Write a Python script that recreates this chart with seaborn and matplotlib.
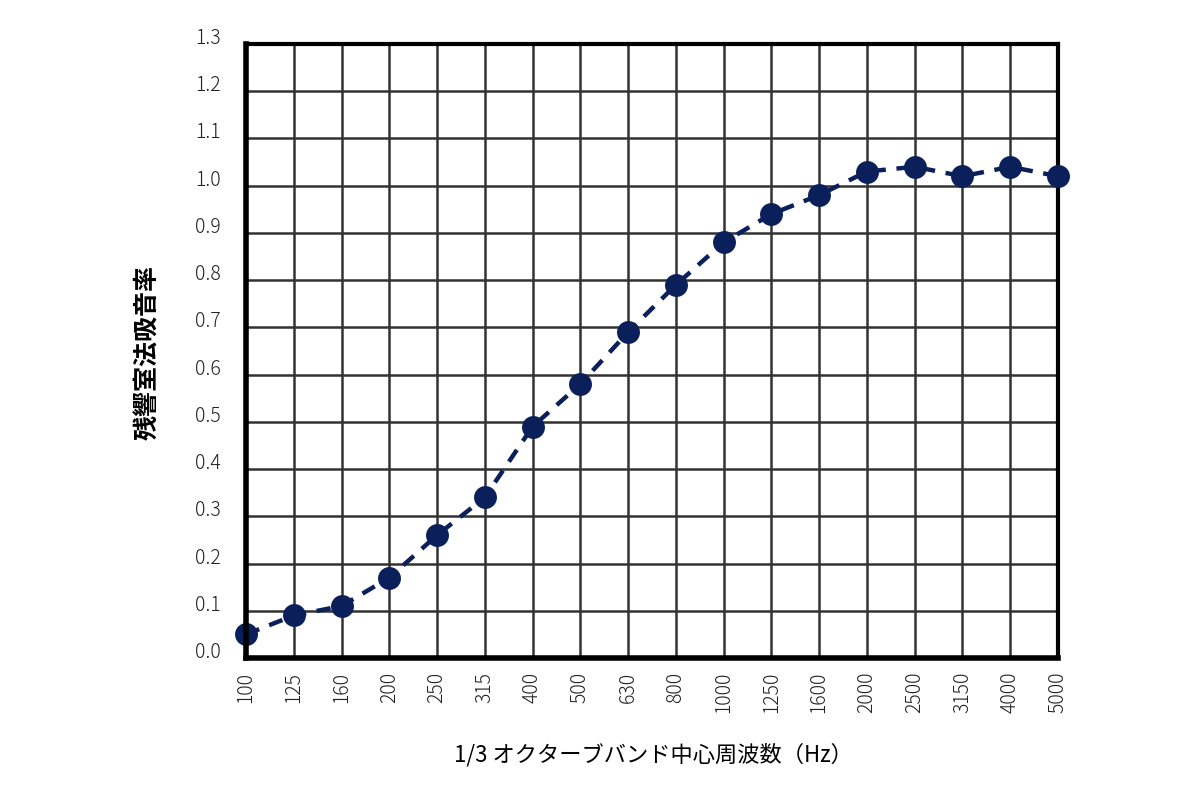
import matplotlib
matplotlib.use("Agg")
import matplotlib.pyplot as plt
import seaborn as sns
import numpy as np

freqs = ["100", "125", "160", "200", "250", "315", "400", "500", "630", "800",
         "1000", "1250", "1600", "2000", "2500", "3150", "4000", "5000"]
absorption = [0.05, 0.09, 0.11, 0.17, 0.26, 0.34, 0.49, 0.58, 0.69, 0.79,
              0.88, 0.94, 0.98, 1.03, 1.04, 1.02, 1.04, 1.02]
yticks = [0.0, 0.1, 0.2, 0.3, 0.4, 0.5, 0.6, 0.7, 0.8, 0.9, 1.0, 1.1, 1.2, 1.3]

sns.set_theme(style="white")
plt.rcParams['font.family'] = ['Noto Sans CJK JP', 'DejaVu Sans']

fig = plt.figure(figsize=(12, 8), dpi=100)
ax = fig.add_axes([246/1200, 1-658/800, (1058-246)/1200, (658-44)/800])

color = "#0b1f5b"
idx = np.arange(len(freqs))
sns.lineplot(x=idx, y=absorption, ax=ax, color=color, linewidth=3.2,
             linestyle=(0, (3.2, 2.4)), marker='o', markersize=16.5,
             markeredgewidth=0, markerfacecolor=color, zorder=5, clip_on=False)

ax.set_xlim(0, len(freqs) - 1)
ax.set_ylim(0, 1.3)
ax.set_xticks(idx)
ax.set_xticklabels(freqs, rotation=90, fontsize=14, fontweight='light', color='#222222')
ax.set_yticks(yticks)
ax.set_yticklabels([f"{v:.1f}" for v in yticks], fontsize=14, fontweight='light', color='#222222')
ax.tick_params(axis='x', length=0, pad=10)
ax.tick_params(axis='y', length=0, pad=18)
for lab in ax.get_yticklabels():
    lab.set_verticalalignment('baseline')

ax.grid(True, color='#333333', linewidth=1.8)
ax.set_axisbelow(True)
for side in ['top', 'right']:
    ax.spines[side].set_linewidth(3)
    ax.spines[side].set_color('black')
for side in ['left', 'bottom']:
    ax.spines[side].set_linewidth(4)
    ax.spines[side].set_color('black')
    ax.spines[side].set_zorder(6)

ax.set_xlabel("1/3 オクターブバンド中心周波数（Hz）", fontsize=16, fontweight='normal', color='black')
ax.set_ylabel("残響室法吸音率", fontsize=18, fontweight='bold', color='black')
ax.xaxis.set_label_coords((653-246)/812, (658-755)/614)
ax.yaxis.set_label_coords((148-246)/812, (658-352)/614)
ax.xaxis.label.set_verticalalignment('center')
ax.yaxis.label.set_verticalalignment('center')

fig.savefig("out.png", dpi=100)
